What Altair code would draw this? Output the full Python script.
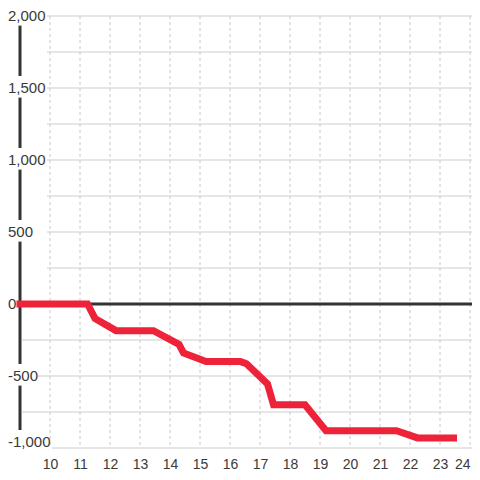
import altair as alt
import pandas as pd

# ---- data ----
x_ticks = list(range(10, 25))
grid_pos = [250, 500, 750, 1000, 1250, 1500, 1750, 2000]
grid_neg = [-250, -750]
grid_neg_lab1 = [-500]
grid_neg_lab2 = [-1000]
label_vals = [2000, 1500, 1000, 500, 0, -500, -1000]
label_text = ["2,000", "1,500", "1,000", "500", "0", "-500", "-1,000"]
hours = [9, 11.25, 11.5, 12.2, 13.45, 14.3, 14.45, 15.2, 16.35, 16.55,
         17.25, 17.45, 18.5, 19.2, 21.55, 22.25, 23.45]
values = [0, 0, -100, -185, -185, -280, -340, -400, -400, -415,
          -555, -700, -700, -880, -880, -930, -930]
y_min, y_max, x_start = -1000, 2000, 9

W, H = 464, 440
X0 = 8.6
FONT = "Liberation Sans"
GRID = "#cccccc"
xs = alt.Scale(domain=[X0, X0 + W / 30], nice=False, zero=False)
ys = alt.Scale(domain=[-1000, 2055.56], nice=False, zero=False)
x_axis = alt.Axis(
    values=x_ticks, format="d", title=None, grid=False, domain=False,
    ticks=False, labelFont=FONT, labelFontSize=14, labelColor="#3a3a3a",
    labelPadding=9, labelFlush=5, labelOverlap=False,
)

df_line = pd.DataFrame({"h": hours, "v": values})
df_vgrid = pd.DataFrame({"h": x_ticks, "top": y_max, "bot": y_min})
df_lab = pd.DataFrame({"v": label_vals, "t": label_text})
df_axis = pd.DataFrame({"h": [x_start], "top": [y_max], "bot": [y_min], "v": [0]})
df_lab_main = df_lab[df_lab["v"] > y_min].copy()
df_lab_low = df_lab[df_lab["v"] == y_min].copy()


def hgrid(vals, start_px):
    return alt.Chart(pd.DataFrame({"v": vals})).mark_rule(color=GRID, strokeWidth=1).encode(
        y=alt.Y("v:Q", scale=ys, axis=None),
        x=alt.value(start_px),
        x2=alt.value(W),
    )


def label_layer(df, dy):
    # white block behind the label (knocks out the axis line as in the original)
    box = alt.Chart(df).transform_filter("datum.v != 0").mark_text(
        align="left", baseline="middle", font="DejaVu Sans", fontSize=18,
        color="white", dy=dy,
    ).encode(
        x=alt.value(8),
        y=alt.Y("v:Q", scale=ys, axis=None),
        text=alt.value("\u2588"),
    )
    txt = alt.Chart(df).mark_text(
        align="left", baseline="middle", font=FONT, fontSize=15,
        color="#3a3a3a", dy=dy,
    ).encode(
        x=alt.value(0),
        y=alt.Y("v:Q", scale=ys, axis=None),
        text="t:N",
    )
    return box, txt


vgrid = alt.Chart(df_vgrid).mark_rule(color="#c8c8c8", strokeWidth=1, strokeDash=[3, 3]).encode(
    x=alt.X("h:Q", scale=xs, axis=x_axis),
    y=alt.Y("top:Q", scale=ys, axis=None),
    y2="bot:Q",
)
yaxis_line = alt.Chart(df_axis).mark_rule(color="#333333", strokeWidth=3).encode(
    x=alt.X("h:Q", scale=xs, axis=x_axis),
    y=alt.Y("top:Q", scale=ys, axis=None),
    y2="bot:Q",
)
zero_line = alt.Chart(df_axis).mark_rule(color="#333333", strokeWidth=3).encode(
    x=alt.X("h:Q", scale=xs, axis=x_axis),
    x2=alt.value(W),
    y=alt.Y("v:Q", scale=ys, axis=None),
)
box_main, txt_main = label_layer(df_lab_main, 0)
box_low, txt_low = label_layer(df_lab_low, -6)
line = alt.Chart(df_line).mark_line(
    color="#ee2238", strokeWidth=7, strokeCap="square", strokeJoin="miter",
).encode(
    x=alt.X("h:Q", scale=xs, axis=x_axis),
    y=alt.Y("v:Q", scale=ys, axis=None),
)

chart = alt.layer(
    vgrid,
    hgrid(grid_pos, 39), hgrid(grid_neg, 14),
    hgrid(grid_neg_lab1, 30), hgrid(grid_neg_lab2, 44),
    yaxis_line, zero_line, box_main, box_low, txt_main, txt_low, line,
).properties(
    width=W, height=H,
    autosize=alt.AutoSizeParams(type="none"),
    padding={"left": 0, "top": 0, "right": 0, "bottom": 24},
    background="white",
).configure_view(stroke=None)

chart.save("out.html", embed_options={"renderer": "svg", "actions": False})
